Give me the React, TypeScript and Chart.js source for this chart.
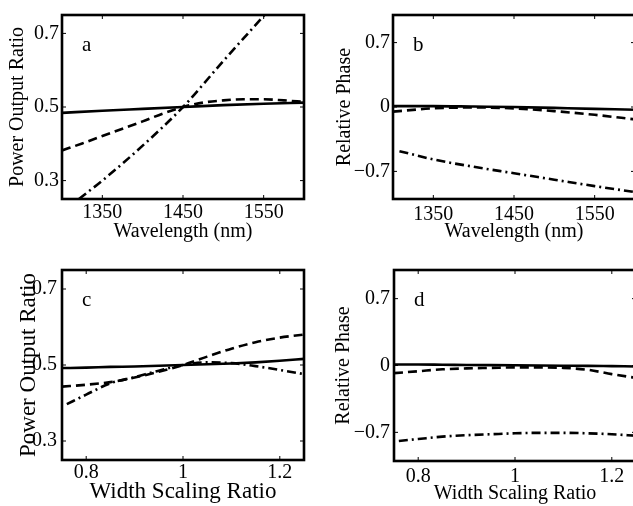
import React, { useEffect, useRef } from 'react';
import { Chart, registerables } from 'chart.js';

Chart.register(...registerables);

const FONT = '"Liberation Serif", "Times New Roman", Times, serif';

// ---------- Panel a: power output ratio vs wavelength ----------
const wavelengthNm = [1300, 1350, 1400, 1450, 1500, 1550, 1600];
const wavelengthFineNm = [1300, 1325, 1350, 1375, 1400, 1425, 1450, 1475, 1500, 1525, 1550, 1575, 1600];
const aSolid = [0.484, 0.490, 0.495, 0.500, 0.505, 0.509, 0.512];
const aDashed = [0.382, 0.401, 0.421, 0.441, 0.461, 0.482, 0.500, 0.512, 0.518, 0.521, 0.521, 0.518, 0.514];
const aDashDotNm = [1321, 1350, 1400, 1450, 1500, 1551];
const aDashDot = [0.25, 0.30, 0.395, 0.50, 0.625, 0.75];

// ---------- Panel b: relative phase vs wavelength ----------
const bSolid = [0.01, 0.01, 0.005, 0.0, -0.01, -0.02, -0.03];
const bDashed = [-0.05, -0.015, -0.005, -0.015, -0.045, -0.085, -0.135];
const bDashDotNm = [1308, 1350, 1400, 1450, 1500, 1550, 1600];
const bDashDot = [-0.48, -0.57, -0.65, -0.72, -0.79, -0.86, -0.925];

// ---------- Panel c: power output ratio vs width scaling ----------
const widthRatio = [0.75, 0.8, 0.85, 0.9, 0.95, 1.0, 1.05, 1.1, 1.15, 1.2, 1.25];
const cSolid = [0.492, 0.493, 0.495, 0.496, 0.498, 0.500, 0.502, 0.504, 0.507, 0.511, 0.516];
const cDashed = [0.443, 0.448, 0.455, 0.467, 0.482, 0.500, 0.522, 0.543, 0.560, 0.572, 0.580];
const cDashDotRatio = [0.76, 0.8, 0.85, 0.9, 0.95, 1.0, 1.05, 1.1, 1.15, 1.2, 1.25];
const cDashDot = [0.397, 0.422, 0.452, 0.468, 0.485, 0.500, 0.507, 0.505, 0.497, 0.487, 0.476];

// ---------- Panel d: relative phase vs width scaling ----------
const dSolid = [0.01, 0.01, 0.008, 0.006, 0.004, 0.002, 0.0, -0.002, -0.004, -0.007, -0.01];
const dDashed = [-0.08, -0.06, -0.04, -0.03, -0.025, -0.02, -0.02, -0.025, -0.045, -0.09, -0.13];
const dDashDotRatio = [0.76, 0.8, 0.85, 0.9, 0.95, 1.0, 1.05, 1.1, 1.15, 1.2, 1.25];
const dDashDot = [-0.79, -0.77, -0.745, -0.73, -0.72, -0.71, -0.705, -0.705, -0.71, -0.72, -0.735];

// ---------- Axis ticks and labels ----------
const wavelengthTicks = [1350, 1450, 1550];
const widthTicks = [0.8, 1, 1.2];
const ratioTicks = [0.3, 0.5, 0.7];
const phaseTicks = [-0.7, 0, 0.7];
const wavelengthRange = [1300, 1600];
const widthRange = [0.75, 1.25];
const ratioRange = [0.25, 0.75];
const phaseRange = [-1, 1];

const toPoints = (xs: number[], ys: number[]) => xs.map((x, i) => ({ x, y: ys[i] }));
const fmt = (v: number) => (v < 0 ? '\u2212' + String(-v) : String(v));

const framePlugin = {
  id: 'frame',
  afterDatasetsDraw(chart: any, _args: any, opts: any) {
    const { ctx, chartArea } = chart;
    const { left, top, right, bottom } = chartArea;
    ctx.save();
    ctx.strokeStyle = '#000';
    ctx.lineWidth = 1;
    const xs = chart.scales.x;
    const ys = chart.scales.y;
    (opts.xTicks || []).forEach((v: number) => {
      const px = xs.getPixelForValue(v);
      ctx.beginPath();
      ctx.moveTo(px, bottom);
      ctx.lineTo(px, bottom - 4);
      ctx.moveTo(px, top);
      ctx.lineTo(px, top + 4);
      ctx.stroke();
    });
    (opts.yTicks || []).forEach((v: number) => {
      const py = ys.getPixelForValue(v);
      ctx.beginPath();
      ctx.moveTo(left, py);
      ctx.lineTo(left + 4, py);
      ctx.moveTo(right, py);
      ctx.lineTo(right - 4, py);
      ctx.stroke();
    });
    ctx.lineWidth = 2.6;
    ctx.strokeRect(left, top, right - left, bottom - top);
    ctx.fillStyle = '#000';
    ctx.font = `21px ${FONT}`;
    ctx.textBaseline = 'alphabetic';
    ctx.textAlign = 'left';
    ctx.fillText(opts.label, left + 20, top + 36);
    ctx.restore();
  },
};

type PanelCfg = {
  label: string;
  left: number; top: number; w: number; h: number;
  padTop: number; padRight: number; yWidth: number; xHeight: number;
  xRange: number[]; yRange: number[]; xTicks: number[]; yTicks: number[];
  xTitle: string; yTitle: string; titleSize: number;
  yTitlePad: number; xTitlePad: number; xTickPad: number; yTickPad: number;
  series: { xs: number[]; ys: number[]; dash: number[] }[];
};

const SOLID: number[] = [];
const DASHED = [9, 5];
const DASHDOT = [9, 4, 2, 4];

const panels: PanelCfg[] = [
  {
    label: 'a', left: 0, top: 0, w: 320, h: 250,
    padTop: 9, padRight: 16, yWidth: 62, xHeight: 51,
    xRange: wavelengthRange, yRange: ratioRange, xTicks: wavelengthTicks, yTicks: ratioTicks,
    xTitle: 'Wavelength (nm)', yTitle: 'Power Output Ratio', titleSize: 20,
    yTitlePad: 6, xTitlePad: 6, xTickPad: 2, yTickPad: 3,
    series: [
      { xs: aDashDotNm, ys: aDashDot, dash: DASHDOT },
      { xs: wavelengthFineNm, ys: aDashed, dash: DASHED },
      { xs: wavelengthNm, ys: aSolid, dash: SOLID },
    ],
  },
  {
    label: 'b', left: 313, top: 0, w: 330, h: 250,
    padTop: 10, padRight: 8, yWidth: 80, xHeight: 51,
    xRange: wavelengthRange, yRange: phaseRange, xTicks: wavelengthTicks, yTicks: phaseTicks,
    xTitle: 'Wavelength (nm)', yTitle: 'Relative Phase', titleSize: 20,
    yTitlePad: 20, xTitlePad: 6, xTickPad: 4, yTickPad: 3,
    series: [
      { xs: bDashDotNm, ys: bDashDot, dash: DASHDOT },
      { xs: wavelengthNm, ys: bDashed, dash: DASHED },
      { xs: wavelengthNm, ys: bSolid, dash: SOLID },
    ],
  },
  {
    label: 'c', left: 0, top: 250, w: 320, h: 256,
    padTop: 20, padRight: 16, yWidth: 62, xHeight: 46,
    xRange: widthRange, yRange: ratioRange, xTicks: widthTicks, yTicks: ratioTicks,
    xTitle: 'Width Scaling Ratio', yTitle: 'Power Output Ratio', titleSize: 23,
    yTitlePad: 15, xTitlePad: 0, xTickPad: 1, yTickPad: 5,
    series: [
      { xs: cDashDotRatio, ys: cDashDot, dash: DASHDOT },
      { xs: widthRatio, ys: cDashed, dash: DASHED },
      { xs: widthRatio, ys: cSolid, dash: SOLID },
    ],
  },
  {
    label: 'd', left: 313, top: 250, w: 330, h: 256,
    padTop: 20, padRight: 7, yWidth: 81, xHeight: 45,
    xRange: widthRange, yRange: phaseRange, xTicks: widthTicks, yTicks: phaseTicks,
    xTitle: 'Width Scaling Ratio', yTitle: 'Relative Phase', titleSize: 20,
    yTitlePad: 19, xTitlePad: 0, xTickPad: 4, yTickPad: 4,
    series: [
      { xs: dDashDotRatio, ys: dDashDot, dash: DASHDOT },
      { xs: widthRatio, ys: dDashed, dash: DASHED },
      { xs: widthRatio, ys: dSolid, dash: SOLID },
    ],
  },
];

function Panel({ p }: { p: PanelCfg }) {
  const ref = useRef<HTMLCanvasElement | null>(null);
  useEffect(() => {
    if (!ref.current) return;
    const chart = new Chart(ref.current, {
      type: 'line',
      data: {
        datasets: p.series.map((s) => ({
          data: toPoints(s.xs, s.ys),
          borderColor: '#000',
          borderWidth: 2.6,
          borderDash: s.dash,
          pointRadius: 0,
          fill: false,
          cubicInterpolationMode: 'monotone' as const,
        })),
      },
      options: {
        animation: false,
        responsive: false,
        maintainAspectRatio: false,
        events: [],
        layout: { padding: { left: 0, top: p.padTop, right: p.padRight, bottom: 0 } },
        plugins: {
          legend: { display: false },
          tooltip: { enabled: false },
          frame: { label: p.label, xTicks: p.xTicks, yTicks: p.yTicks },
        } as any,
        scales: {
          x: {
            type: 'linear',
            min: p.xRange[0],
            max: p.xRange[1],
            grid: { display: false, drawTicks: false },
            border: { display: false },
            afterBuildTicks: (s: any) => { s.ticks = p.xTicks.map((v) => ({ value: v })); },
            afterFit: (s: any) => { s.height = p.xHeight; },
            ticks: {
              padding: p.xTickPad,
              autoSkip: false,
              maxRotation: 0,
              color: '#000',
              font: { family: FONT, size: 20 },
              callback: (v: any) => fmt(Number(v)),
            },
            title: {
              display: true,
              text: p.xTitle,
              color: '#000',
              font: { family: FONT, size: p.titleSize },
              padding: { top: 0, bottom: p.xTitlePad },
            },
          },
          y: {
            type: 'linear',
            min: p.yRange[0],
            max: p.yRange[1],
            grid: { display: false, drawTicks: false },
            border: { display: false },
            afterBuildTicks: (s: any) => { s.ticks = p.yTicks.map((v) => ({ value: v })); },
            afterFit: (s: any) => { s.width = p.yWidth; },
            ticks: {
              padding: p.yTickPad,
              autoSkip: false,
              color: '#000',
              font: { family: FONT, size: 20 },
              callback: (v: any) => fmt(Number(v)),
            },
            title: {
              display: true,
              text: p.yTitle,
              color: '#000',
              font: { family: FONT, size: p.titleSize },
              padding: { top: p.yTitlePad, bottom: 0 },
            },
          },
        },
      },
      plugins: [framePlugin],
    } as any);
    return () => chart.destroy();
  }, [p]);
  return (
    <canvas
      ref={ref}
      width={p.w}
      height={p.h}
      style={{ position: 'absolute', left: p.left, top: p.top, width: p.w, height: p.h }}
    />
  );
}

export default function App() {
  return (
    <div
      style={{
        position: 'fixed',
        left: 0,
        top: 0,
        width: 633,
        height: 506,
        overflow: 'hidden',
        background: '#fff',
      }}
    >
      {panels.map((p) => (
        <Panel key={p.label} p={p} />
      ))}
    </div>
  );
}
